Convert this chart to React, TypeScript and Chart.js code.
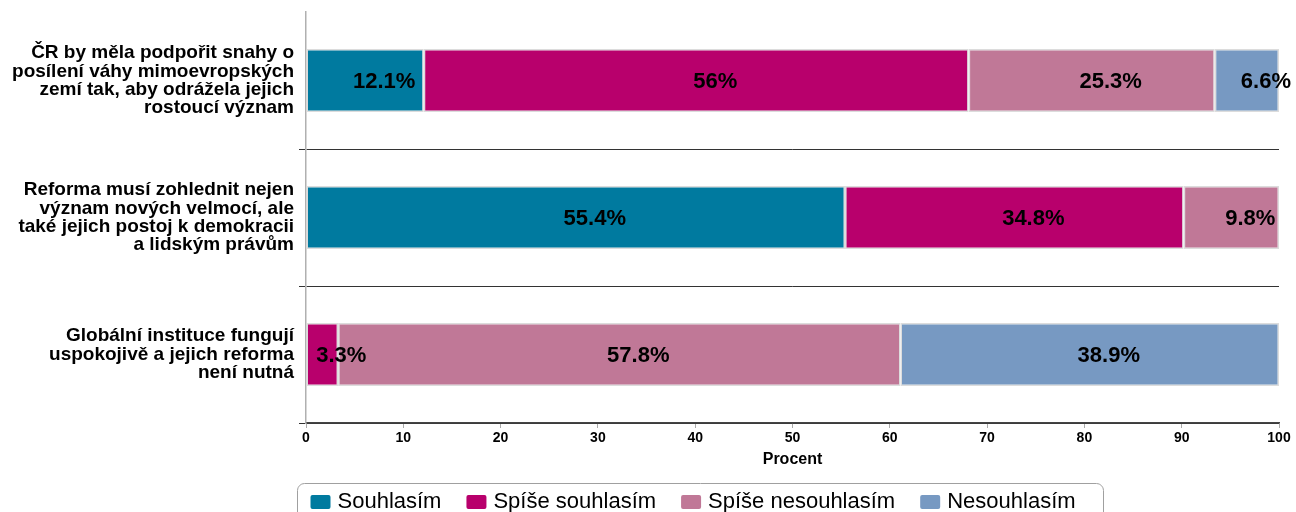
import React, { useEffect, useRef } from 'react';
import { Chart, registerables } from 'chart.js';

Chart.register(...registerables);

const categories: string[][] = [
  ['ČR by měla podpořit snahy o', 'posílení váhy mimoevropských', 'zemí tak, aby odrážela jejich', 'rostoucí význam'],
  ['Reforma musí zohlednit nejen', 'význam nových velmocí, ale', 'také jejich postoj k demokracii', 'a lidským právům'],
  ['Globální instituce fungují', 'uspokojivě a jejich reforma', 'není nutná'],
];

const seriesNames = ['Souhlasím', 'Spíše souhlasím', 'Spíše nesouhlasím', 'Nesouhlasím'];
const souhlasim = [12.1, 55.4, 0];
const spiseSouhlasim = [56, 34.8, 3.3];
const spiseNesouhlasim = [25.3, 9.8, 57.8];
const nesouhlasim = [6.6, 0, 38.9];
const seriesColors = ['#007A9F', '#B8006C', '#C07897', '#7799C2'];

const xMin = 0;
const xMax = 100;
const xStep = 10;
const xTitle = 'Procent';

const FONT = '"Liberation Sans", Arial, Helvetica, sans-serif';
const LABEL_SHIFT = 19;

const dataLabelPlugin = {
  id: 'segmentLabels',
  afterDatasetsDraw(chart: any) {
    const ctx = chart.ctx;
    ctx.save();
    ctx.font = `bold 22px ${FONT}`;
    ctx.fillStyle = '#000';
    ctx.textAlign = 'center';
    ctx.textBaseline = 'middle';
    chart.data.datasets.forEach((ds: any, i: number) => {
      const meta = chart.getDatasetMeta(i);
      meta.data.forEach((el: any, j: number) => {
        const v = ds.data[j];
        if (!v) return;
        const p = el.getProps(['x', 'base', 'y'], true);
        ctx.fillText(`${v}%`, (p.x + p.base) / 2 + LABEL_SHIFT, p.y + 1);
      });
    });
    ctx.restore();
  },
};

const boxLegendPlugin = {
  id: 'boxLegend',
  afterDraw(chart: any) {
    const ctx = chart.ctx;
    ctx.save();
    const bx = 289.5;
    const by = 475.5;
    const bw = 806;
    const bh = 50;
    ctx.strokeStyle = '#a0a0a0';
    ctx.lineWidth = 1;
    ctx.beginPath();
    ctx.roundRect(bx, by, bw, bh, 7);
    ctx.stroke();
    ctx.font = `22px ${FONT}`;
    ctx.textBaseline = 'alphabetic';
    ctx.textAlign = 'left';
    let x = bx + 13;
    chart.data.datasets.forEach((ds: any) => {
      ctx.fillStyle = ds.backgroundColor;
      ctx.beginPath();
      ctx.roundRect(x, 487, 20, 14, 2);
      ctx.fill();
      ctx.fillStyle = '#000';
      ctx.fillText(ds.label, x + 27, 500);
      x += 27 + ctx.measureText(ds.label).width + 25;
    });
    ctx.restore();
  },
};

export default function App() {
  const ref = useRef<HTMLCanvasElement | null>(null);

  useEffect(() => {
    document.documentElement.style.overflow = 'hidden';
    if (!ref.current) return;
    const values = [souhlasim, spiseSouhlasim, spiseNesouhlasim, nesouhlasim];
    const chart = new Chart(ref.current, {
      type: 'bar',
      data: {
        labels: categories,
        datasets: seriesNames.map((name, i) => ({
          label: name,
          data: values[i],
          backgroundColor: seriesColors[i],
          borderColor: '#dcdcdc',
          borderWidth: 1.5,
          borderSkipped: false,
          barPercentage: 0.46,
          categoryPercentage: 1,
        })),
      },
      options: {
        indexAxis: 'y',
        animation: false,
        responsive: false,
        devicePixelRatio: 1,
        layout: { padding: { top: 4, right: 17, left: 0, bottom: 29 } },
        plugins: {
          legend: { display: false },
          tooltip: { enabled: false },
        },
        scales: {
          x: {
            stacked: true,
            min: xMin,
            max: xMax,
            afterFit: (scale: any) => {
              scale.height = 60;
              scale.paddingLeft = 0;
              scale.paddingRight = 0;
            },
            ticks: {
              stepSize: xStep,
              color: '#000',
              padding: 2,
              font: { family: FONT, size: 14, weight: 'bold' },
            },
            grid: {
              drawOnChartArea: false,
              drawTicks: true,
              tickLength: 5,
              tickColor: '#aaaaaa',
            },
            border: { color: '#444444', width: 1.5 },
            title: {
              display: true,
              text: xTitle,
              color: '#000',
              font: { family: FONT, size: 16, weight: 'bold' },
              padding: { top: 4, bottom: 14 },
            },
          },
          y: {
            stacked: true,
            afterFit: (scale: any) => {
              scale.width = 298;
              scale.paddingTop = 0;
              scale.paddingBottom = 0;
            },
            ticks: {
              color: '#000',
              padding: 5,
              font: { family: FONT, size: 19, weight: 'bold', lineHeight: 0.97 },
            },
            grid: {
              offset: true,
              drawTicks: true,
              tickLength: 7,
              color: (c: any) => (c.index === 0 ? 'rgba(0,0,0,0)' : '#333333'),
              tickColor: (c: any) => (c.index === 0 ? 'rgba(0,0,0,0)' : '#333333'),
            },
            border: { color: '#b0b0b0', width: 1.5 },
          },
        },
      },
      plugins: [dataLabelPlugin, boxLegendPlugin],
    });
    return () => chart.destroy();
  }, []);

  return (
    <div style={{ width: 1280, height: 496 }}>
      <div style={{ position: 'fixed', left: 8, top: 8, width: 1288, height: 504 }}>
        <canvas ref={ref} width={1288} height={504} style={{ display: 'block', width: 1288, height: 504 }} />
      </div>
    </div>
  );
}
